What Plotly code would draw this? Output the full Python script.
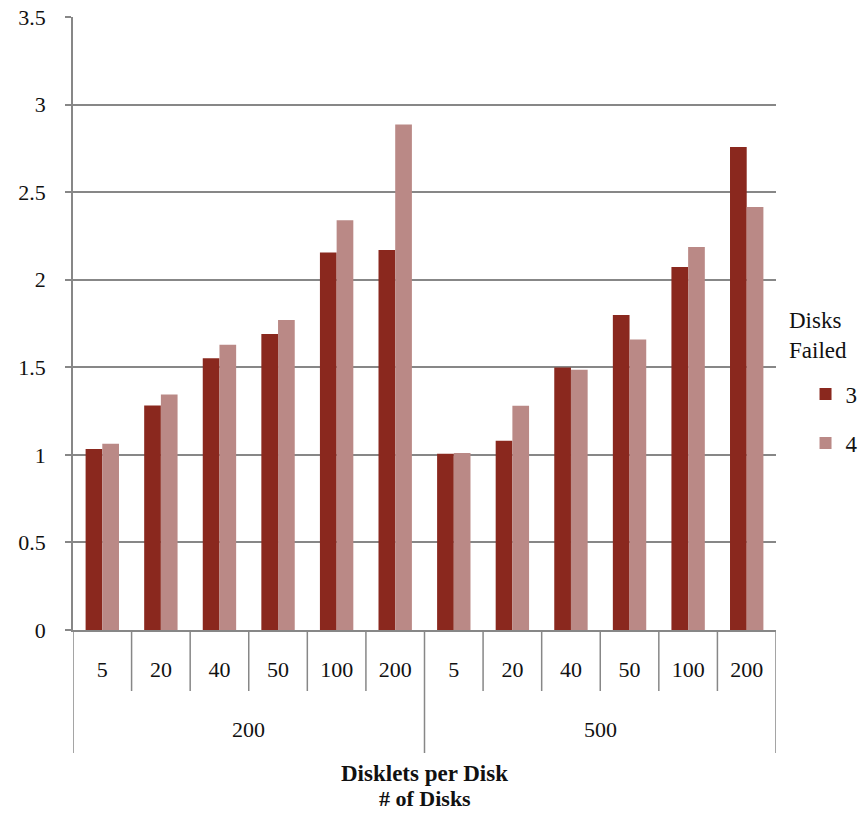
import plotly.graph_objects as go

# Number of disks (outer grouping) and disklets per disk (inner categories)
disk_counts = ["200", "500"]
disklets = ["5", "20", "40", "50", "100", "200"]

# Values per series, in order: 200 disks (5..200), then 500 disks (5..200)
failed_3 = [1.034, 1.282, 1.551, 1.690, 2.156, 2.170,
            1.006, 1.080, 1.499, 1.798, 2.072, 2.758]
failed_4 = [1.063, 1.345, 1.629, 1.770, 2.339, 2.886,
            1.011, 1.280, 1.486, 1.659, 2.187, 2.415]

series_names = ["3", "4"]
series_colors = ["#8A281E", "#BA8986"]
axis_titles = ["Disklets per Disk", "# of Disks"]

FONT = "Times New Roman, Liberation Serif, serif"
GRID = "#878787"
TEXT = "#111111"
TICK_SIZE = 22
TEXT_SIZE = 23

n_inner = len(disklets)
labels = [d for _ in disk_counts for d in disklets]
xpos = list(range(len(labels)))

fig = go.Figure()
for name, vals, col in zip(series_names, [failed_3, failed_4], series_colors):
    fig.add_trace(go.Bar(
        x=xpos, y=vals, name=name, legendgroup=name,
        marker=dict(color=col, line=dict(width=0)),
    ))

# Category dividers below the axis: short ones between inner categories,
# long ones at the edges of each outer group
inner_depth = -0.0995
outer_depth = -0.2007
shapes = []
for g in range(len(disk_counts)):
    for k in range(1, n_inner):
        xb = g * n_inner + k - 0.5
        shapes.append(dict(type="line", xref="x", yref="paper",
                           x0=xb, x1=xb, y0=0, y1=inner_depth,
                           line=dict(color=GRID, width=1.5)))
for g in range(len(disk_counts) + 1):
    xb = g * n_inner - 0.5
    shapes.append(dict(type="line", xref="x", yref="paper",
                       x0=xb, x1=xb, y0=0, y1=outer_depth,
                       line=dict(color=GRID, width=1.5)))

annotations = []
for g, lab in enumerate(disk_counts):
    annotations.append(dict(
        x=g * n_inner + (n_inner - 1) / 2, xref="x",
        y=-0.163, yref="paper", text=lab, showarrow=False,
        xanchor="center", yanchor="middle",
        font=dict(family=FONT, size=TICK_SIZE, color=TEXT)))

# Axis titles for the two category levels
for title, ty, fs in zip(axis_titles, [-0.2333, -0.2755], [TEXT_SIZE, 22]):
    annotations.append(dict(
        x=0.5, xref="paper", y=ty, yref="paper",
        text=f"<b>{title}</b>", showarrow=False,
        xanchor="center", yanchor="middle",
        font=dict(family=FONT, size=fs, color=TEXT)))

# Legend heading
annotations.append(dict(
    x=1.016, xref="paper", y=0.481, yref="paper",
    text="Disks<br>Failed", showarrow=False, align="left",
    xanchor="left", yanchor="middle",
    font=dict(family=FONT, size=TEXT_SIZE, color=TEXT)))

fig.update_layout(
    width=864, height=814,
    margin=dict(l=73, r=88, t=17, b=184, autoexpand=False),
    paper_bgcolor="white", plot_bgcolor="white",
    barmode="group", bargap=0.43, bargroupgap=0,
    font=dict(family=FONT, size=TICK_SIZE, color=TEXT),
    shapes=shapes, annotations=annotations,
    showlegend=True,
    legend=dict(x=1.042, xanchor="left", y=0.42, yanchor="top",
                font=dict(family=FONT, size=TEXT_SIZE, color=TEXT),
                tracegroupgap=16, bgcolor="rgba(0,0,0,0)"),
    xaxis=dict(
        range=[-0.5, len(labels) - 0.5], automargin=False,
        tickmode="array", tickvals=xpos, ticktext=labels,
        ticks="", showgrid=False, zeroline=False,
        showline=True, linecolor=GRID, linewidth=1.5,
        ticklabelstandoff=19,
        tickfont=dict(family=FONT, size=TICK_SIZE, color=TEXT),
    ),
    yaxis=dict(
        range=[0, 3.5], dtick=0.5, tick0=0, automargin=False,
        showgrid=True, gridcolor=GRID, gridwidth=1.5,
        zeroline=False,
        showline=True, linecolor=GRID, linewidth=1.5,
        ticks="outside", ticklen=6, tickcolor=GRID, tickwidth=1.5,
        ticklabelstandoff=15,
        tickfont=dict(family=FONT, size=TICK_SIZE, color=TEXT),
    ),
)

fig.write_html("out.html")
